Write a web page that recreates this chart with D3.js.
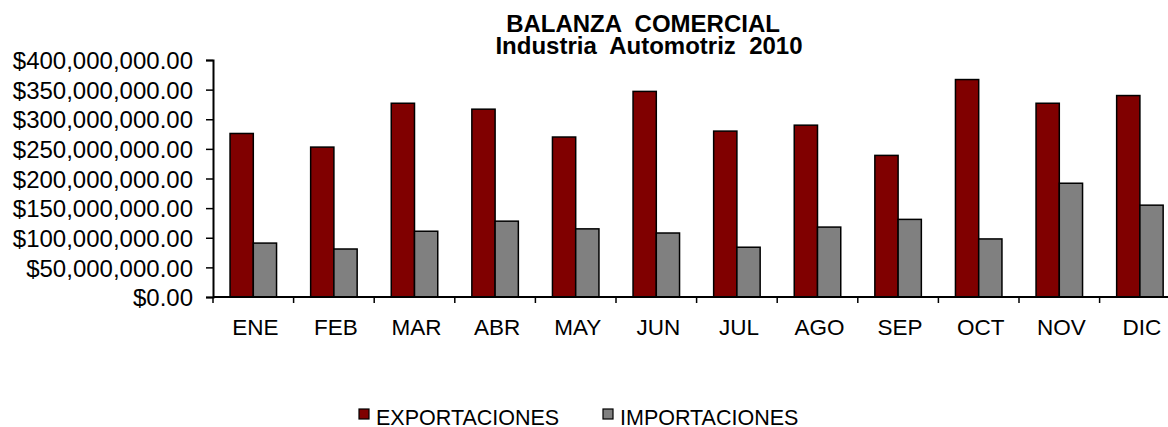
<!DOCTYPE html>
<html>
<head>
<meta charset="utf-8">
<script src="https://cdn.jsdelivr.net/npm/d3@7"></script>
<style>
  body { margin: 0; background: #fff; }
  svg { display: block; font-family: "Liberation Sans", Arial, sans-serif; }
</style>
</head>
<body>
<svg id="chart" width="1168" height="427"></svg>
<script>
// months and series (pesos)
const months = ["ENE", "FEB", "MAR", "ABR", "MAY", "JUN", "JUL", "AGO", "SEP", "OCT", "NOV", "DIC"];
const exportaciones = [276e6, 253e6, 327e6, 317e6, 270e6, 347e6, 280e6, 290e6, 239e6, 367e6, 327e6, 340e6];
const importaciones = [91e6, 81e6, 111e6, 128e6, 115e6, 108e6, 84e6, 118e6, 131e6, 98e6, 192e6, 155e6];
const seriesNames = ["EXPORTACIONES", "IMPORTACIONES"];
const seriesColors = ["#800000", "#808080"];
const yTicks = [0, 50e6, 100e6, 150e6, 200e6, 250e6, 300e6, 350e6, 400e6];

let svg = d3.select("#chart");

let plotLeft = 213, plotTop = 60, plotBottom = 297;
let band = 80.6; // width of one month slot
let plotRight = plotLeft + band * months.length; // runs past the window, like the original

let xScale = d3.scaleBand().domain(months).range([plotLeft, plotRight]);
let yScale = d3.scaleLinear().domain([0, 400e6]).range([plotBottom, plotTop]);

// the two bars of each month sit together in the middle of the slot
let groupW = 46.5;
let xSub = d3.scaleBand().domain(seriesNames).range([0, groupW]);

let rows = months.map((m, i) => ({ month: m, values: [exportaciones[i], importaciones[i]] }));

let groups = svg.append("g").selectAll("g")
  .data(rows)
  .enter()
  .append("g")
  .attr("transform", d => "translate(" + (xScale(d.month) + (xScale.bandwidth() - groupW) / 2) + ",0)");

groups.selectAll("rect")
  .data(d => d.values.map((v, j) => ({ name: seriesNames[j], value: v, color: seriesColors[j] })))
  .enter()
  .append("rect")
  .attr("x", d => xSub(d.name))
  .attr("width", xSub.bandwidth())
  .attr("y", d => yScale(d.value))
  .attr("height", d => plotBottom - yScale(d.value))
  .attr("fill", d => d.color)
  .attr("stroke", "#000")
  .attr("stroke-width", 1.5);

// y axis
let yAxis = d3.axisLeft(yScale)
  .tickValues(yTicks)
  .tickFormat(d3.format("$,.2f"))
  .tickSizeOuter(0)
  .tickSize(7)
  .tickPadding(13);

let gy = svg.append("g")
  .attr("transform", "translate(" + plotLeft + ",0)")
  .call(yAxis);
gy.select(".domain").attr("stroke", "#000").attr("stroke-width", 2);
gy.selectAll(".tick line").attr("stroke", "#000").attr("stroke-width", 1.5);
gy.selectAll("text")
  .attr("fill", "#000")
  .style("font-size", "24px")
  .attr("dy", "0.36em");

// x axis: ticks on slot boundaries, labels centred in slots
let boundaries = d3.range(months.length + 1).map(i => plotLeft + i * band);
let gx = svg.append("g");
gx.append("line")
  .attr("x1", plotLeft).attr("x2", plotRight)
  .attr("y1", plotBottom).attr("y2", plotBottom)
  .attr("stroke", "#000").attr("stroke-width", 2);
gx.selectAll(".xt")
  .data(boundaries)
  .enter()
  .append("line")
  .attr("x1", d => d).attr("x2", d => d)
  .attr("y1", plotBottom).attr("y2", plotBottom + 6)
  .attr("stroke", "#000").attr("stroke-width", 1.5);
gx.selectAll("text")
  .data(months)
  .enter()
  .append("text")
  .attr("x", d => xScale(d) + xScale.bandwidth() / 2 + 2)
  .attr("y", 335)
  .attr("text-anchor", "middle")
  .style("font-size", "22.5px")
  .text(d => d);

// title
let title = svg.append("text")
  .attr("text-anchor", "middle")
  .style("font-size", "24px")
  .style("font-weight", "bold")
  .style("white-space", "pre");
title.append("tspan").attr("x", 643).attr("y", 32).text("BALANZA  COMERCIAL");
title.append("tspan").attr("x", 649).attr("y", 54).text("Industria  Automotriz  2010");

// legend
let legendX = [359, 603];
let legend = svg.append("g").selectAll("g")
  .data(seriesNames)
  .enter()
  .append("g")
  .attr("transform", (d, i) => "translate(" + legendX[i] + ",409)");
legend.append("rect")
  .attr("width", 10).attr("height", 10)
  .attr("fill", (d, i) => seriesColors[i])
  .attr("stroke", "#000").attr("stroke-width", 1.2);
legend.append("text")
  .attr("x", 17).attr("y", 16)
  .style("font-size", "21.5px")
  .text(d => d);
</script>
</body>
</html>
